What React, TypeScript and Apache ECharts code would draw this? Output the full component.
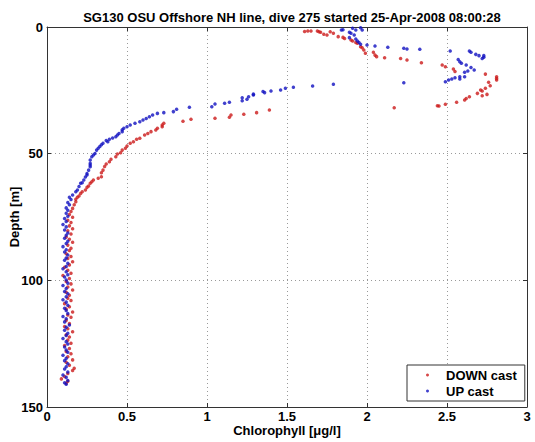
import React, { useEffect, useRef } from "react";
import * as echarts from "echarts";

const titleText = "SG130 OSU Offshore NH line, dive 275 started 25-Apr-2008 08:00:28";
const xAxisName = "Chlorophyll [μg/l]";
const yAxisName = "Depth [m]";
const seriesNames = ["DOWN cast", "UP cast"];

// DOWN cast: depth [m]
const downDepth = [
  1.6, 1.6, 1.6, 1.8, 1.9, 1.9, 2.1, 2.5, 2.9, 3.2, 3.8, 4.1, 4.5, 5.1, 5.5, 6.1, 6.4, 7.8, 8.2, 9.1,
  10.0, 10.4, 11.1, 11.7, 12.1, 12.4, 13.0, 14.1, 15.0, 15.7, 16.6, 17.6, 18.6, 19.6, 20.3, 20.9, 21.8, 23.2, 24.2, 24.9,
  25.3, 26.2, 26.6, 27.1, 27.5, 28.2, 28.8, 29.7, 30.5, 31.1, 31.2, 31.9, 32.8, 33.8, 34.4, 34.7, 35.6, 36.0, 36.4, 37.2,
  38.0, 38.7, 39.4, 40.0, 40.7, 41.3, 42.0, 42.6, 43.9, 44.3, 45.3, 45.9, 47.0, 47.9, 48.6, 49.6, 50.1, 51.2, 52.2, 53.2,
  54.1, 55.1, 56.5, 57.5, 59.1, 59.7, 60.4, 61.1, 61.7, 62.8, 63.3, 64.3, 65.0, 65.7, 66.7, 67.2, 68.0, 69.0, 70.2, 71.6,
  72.8, 74.0, 75.1, 76.3, 77.2, 78.5, 79.6, 80.4, 81.7, 82.9, 83.8, 85.0, 86.1, 87.3, 88.2, 89.5, 90.6, 91.4, 92.7, 93.9,
  94.8, 96.0, 97.2, 98.1, 99.3, 100.5, 101.4, 102.6, 103.8, 104.7, 105.9, 107.1, 108.0, 109.2, 110.4, 111.3, 112.5, 113.7, 114.6, 115.8,
  117.0, 118.2, 119.1, 120.3, 121.5, 122.4, 123.6, 124.8, 125.7, 126.9, 128.1, 129.0, 130.2, 131.4, 132.3, 133.5, 134.7, 135.6, 136.8, 138.0,
  138.9, 139.8, 140.6,
];
// DOWN cast: chlorophyll [ug/l]
const downChl = [
  1.63, 1.65, 1.69, 1.61, 1.70, 1.77, 1.71, 1.79, 1.73, 1.75, 1.82, 1.85, 1.86, 1.90, 1.91, 1.93, 1.94, 1.96, 1.97, 1.98,
  2.04, 1.99, 2.05, 2.06, 2.11, 2.21, 2.25, 2.34, 2.47, 2.49, 2.54, 2.55, 2.74, 2.81, 2.81, 2.81, 2.76, 2.77, 2.74, 2.71,
  2.72, 2.69, 2.75, 2.72, 2.64, 2.62, 2.61, 2.56, 2.49, 2.44, 2.45, 2.17, 1.39, 1.31, 1.23, 1.15, 1.14, 1.05, 0.90, 0.85,
  0.73, 0.72, 0.72, 0.69, 0.68, 0.65, 0.63, 0.61, 0.58, 0.56, 0.54, 0.52, 0.50, 0.49, 0.47, 0.46, 0.44, 0.43, 0.40, 0.39,
  0.37, 0.36, 0.35, 0.34, 0.34, 0.32, 0.29, 0.28, 0.27, 0.26, 0.25, 0.24, 0.22, 0.21, 0.20, 0.19, 0.18, 0.18, 0.17, 0.16,
  0.15, 0.14, 0.16, 0.13, 0.15, 0.14, 0.16, 0.13, 0.15, 0.12, 0.14, 0.16, 0.13, 0.15, 0.14, 0.12, 0.15, 0.13, 0.16, 0.14,
  0.11, 0.13, 0.15, 0.10, 0.14, 0.12, 0.15, 0.13, 0.16, 0.12, 0.14, 0.13, 0.15, 0.11, 0.14, 0.12, 0.16, 0.13, 0.15, 0.12,
  0.14, 0.11, 0.13, 0.16, 0.12, 0.14, 0.13, 0.15, 0.11, 0.14, 0.12, 0.15, 0.13, 0.16, 0.12, 0.14, 0.17, 0.16, 0.13, 0.11,
  0.09, 0.13, 0.12,
];

// UP cast: depth [m]
const upDepth = [
  141.0, 140.4, 139.5, 138.3, 137.4, 136.2, 135.0, 134.1, 132.9, 131.7, 130.8, 129.6, 128.4, 127.5, 126.3, 125.1, 124.2, 123.0, 121.8, 120.9,
  119.7, 118.5, 117.6, 116.4, 115.2, 114.3, 113.1, 111.9, 111.0, 109.8, 108.6, 107.7, 106.5, 105.3, 104.4, 103.2, 102.0, 101.1, 99.9, 98.7,
  97.8, 96.6, 95.4, 94.5, 93.3, 92.1, 91.2, 90.0, 88.8, 87.9, 86.7, 85.5, 84.6, 83.4, 82.2, 81.3, 80.1, 78.9, 78.0, 76.8,
  75.6, 74.7, 73.5, 72.3, 71.4, 70.2, 69.3, 68.1, 67.2, 66.3, 65.0, 64.3, 63.0, 61.7, 61.5, 60.4, 59.2, 58.4, 57.8, 56.5,
  55.2, 54.5, 53.8, 52.5, 51.2, 50.5, 49.9, 48.6, 47.9, 47.2, 46.5, 45.9, 45.3, 44.8, 44.3, 43.8, 43.3, 42.6, 42.0, 41.3,
  40.6, 40.0, 39.4, 38.7, 38.0, 37.4, 36.7, 36.1, 35.4, 34.7, 34.1, 33.8, 33.4, 32.5, 31.7, 31.5, 30.4, 30.1, 29.7, 29.1,
  28.5, 27.9, 27.5, 26.8, 26.5, 25.9, 25.5, 25.3, 24.9, 24.2, 23.8, 23.3, 22.6, 22.0, 21.6, 20.9, 20.5, 20.0, 20.5, 19.6,
  19.6, 17.9, 17.4, 17.0, 16.0, 15.0, 14.3, 13.7, 12.8, 12.4, 11.9, 11.3, 11.3, 10.8, 10.0, 9.5, 9.5, 8.8, 8.7, 8.4,
  8.0, 7.5, 7.1, 6.8, 6.1, 5.5, 4.7, 4.2, 3.2, 2.5, 2.1, 1.2, 1.2, 1.1, 1.2, 0.5, 0.3,
];
// UP cast: chlorophyll [ug/l]
const upChl = [
  0.12, 0.11, 0.13, 0.12, 0.10, 0.13, 0.11, 0.12, 0.13, 0.11, 0.12, 0.10, 0.13, 0.12, 0.11, 0.13, 0.12, 0.10, 0.12, 0.13,
  0.11, 0.12, 0.14, 0.11, 0.12, 0.10, 0.13, 0.12, 0.11, 0.13, 0.12, 0.10, 0.12, 0.13, 0.11, 0.12, 0.10, 0.13, 0.12, 0.11,
  0.13, 0.12, 0.10, 0.12, 0.13, 0.11, 0.12, 0.13, 0.11, 0.12, 0.10, 0.12, 0.13, 0.11, 0.12, 0.13, 0.11, 0.12, 0.10, 0.12,
  0.11, 0.13, 0.12, 0.13, 0.12, 0.14, 0.13, 0.15, 0.14, 0.16, 0.18, 0.19, 0.20, 0.21, 0.22, 0.23, 0.24, 0.25, 0.25, 0.26,
  0.27, 0.27, 0.27, 0.27, 0.28, 0.29, 0.30, 0.31, 0.32, 0.33, 0.34, 0.35, 0.38, 0.37, 0.39, 0.41, 0.43, 0.44, 0.45, 0.47,
  0.47, 0.48, 0.50, 0.52, 0.55, 0.58, 0.60, 0.62, 0.64, 0.66, 0.69, 0.73, 0.79, 0.81, 0.89, 1.03, 1.05, 1.11, 1.14, 1.22,
  1.25, 1.22, 1.26, 1.29, 1.29, 1.36, 1.35, 1.40, 1.46, 1.49, 1.54, 1.66, 1.79, 2.23, 2.49, 2.51, 2.53, 2.55, 2.58, 2.58,
  2.61, 2.61, 2.63, 2.67, 2.65, 2.62, 2.59, 2.58, 2.57, 2.72, 2.73, 2.73, 2.70, 2.68, 2.65, 2.64, 2.52, 2.33, 2.25, 2.23,
  2.13, 2.05, 2.00, 1.96, 1.95, 1.94, 1.93, 1.89, 1.92, 1.90, 1.89, 1.93, 1.97, 1.85, 1.84, 1.91, 1.96,
];

const xTicks = { min: 0, max: 3, interval: 0.5 };
const yTicks = { min: 0, max: 150, interval: 50 };

const FONT = "Liberation Sans, Arial, Helvetica, sans-serif";
const RED = "#cc1a1a";
const BLUE = "#1010c0";

function zip(xs: number[], ys: number[]) {
  const out: number[][] = [];
  const n = Math.min(xs.length, ys.length);
  for (let i = 0; i < n; i++) out.push([xs[i], ys[i]]);
  return out;
}

export default function App() {
  const ref = useRef<HTMLDivElement>(null);
  useEffect(() => {
    if (!ref.current) return;
    const chart = echarts.init(ref.current, null, { renderer: "svg" });
    const gridLine = { show: true, lineStyle: { color: "#9a9a9a", type: [1, 3] as any, width: 1 } };
    const baseX = {
      type: "value" as const,
      min: xTicks.min,
      max: xTicks.max,
      interval: xTicks.interval,
      axisLine: { show: true, onZero: false, lineStyle: { color: "#333", width: 1 } },
      axisTick: { show: true, inside: true, length: 4, lineStyle: { color: "#333" } },
    };
    const baseY = {
      type: "value" as const,
      min: yTicks.min,
      max: yTicks.max,
      interval: yTicks.interval,
      inverse: true,
      axisLine: { show: true, onZero: false, lineStyle: { color: "#333", width: 1 } },
      axisTick: { show: true, inside: true, length: 4, lineStyle: { color: "#333" } },
    };
    chart.setOption({
      animation: false,
      backgroundColor: "#fff",
      title: {
        text: titleText,
        left: 287,
        textAlign: "center",
        top: 6,
        textStyle: { fontFamily: FONT, fontSize: 13, fontWeight: "bold", color: "#000" },
      },
      grid: {
        left: 47,
        top: 27,
        width: 480,
        height: 380,
        show: false,
        containLabel: false,
        outerBoundsMode: "none",
      },
      xAxis: [
        {
          ...baseX,
          position: "bottom",
          name: xAxisName,
          nameLocation: "middle",
          nameGap: 17,
          nameMoveOverlap: false,
          nameTextStyle: { fontFamily: FONT, fontSize: 13, fontWeight: "bold", color: "#000" },
          axisLabel: {
            margin: 3,
            fontFamily: FONT,
            fontSize: 13,
            fontWeight: "bold",
            color: "#000",
            formatter: (v: number) => String(v),
          },
          splitLine: gridLine,
        },
        {
          ...baseX,
          position: "top",
          axisLabel: { show: false },
          splitLine: { show: false },
        },
      ],
      yAxis: [
        {
          ...baseY,
          position: "left",
          name: yAxisName,
          nameLocation: "middle",
          nameGap: 26,
          nameMoveOverlap: false,
          nameTextStyle: { fontFamily: FONT, fontSize: 13, fontWeight: "bold", color: "#000" },
          axisLabel: { margin: 4, fontFamily: FONT, fontSize: 13, fontWeight: "bold", color: "#000" },
          splitLine: gridLine,
        },
        {
          ...baseY,
          position: "right",
          axisLabel: { show: false },
          splitLine: { show: false },
        },
      ],
      legend: {
        left: 407,
        top: 365,
        orient: "vertical",
        itemGap: 2,
        itemWidth: 3,
        itemHeight: 3,
        icon: "circle",
        padding: [3, 8, 3, 19],
        borderColor: "#333",
        borderWidth: 1,
        backgroundColor: "#fff",
        textStyle: {
          fontFamily: FONT,
          fontSize: 13,
          fontWeight: "bold",
          color: "#000",
          padding: [0, 0, 0, 12],
          lineHeight: 14,
        },
        data: seriesNames,
      },
      series: [
        {
          name: seriesNames[0],
          type: "scatter",
          symbol: "circle",
          symbolSize: 3.5,
          itemStyle: { color: RED },
          data: zip(downChl, downDepth),
        },
        {
          name: seriesNames[1],
          type: "scatter",
          symbol: "circle",
          symbolSize: 3.5,
          itemStyle: { color: BLUE },
          data: zip(upChl, upDepth),
        },
      ],
    });
    return () => chart.dispose();
  }, []);
  return <div ref={ref} style={{ width: 535, height: 442, position: "absolute", left: 0, top: 0 }} />;
}
